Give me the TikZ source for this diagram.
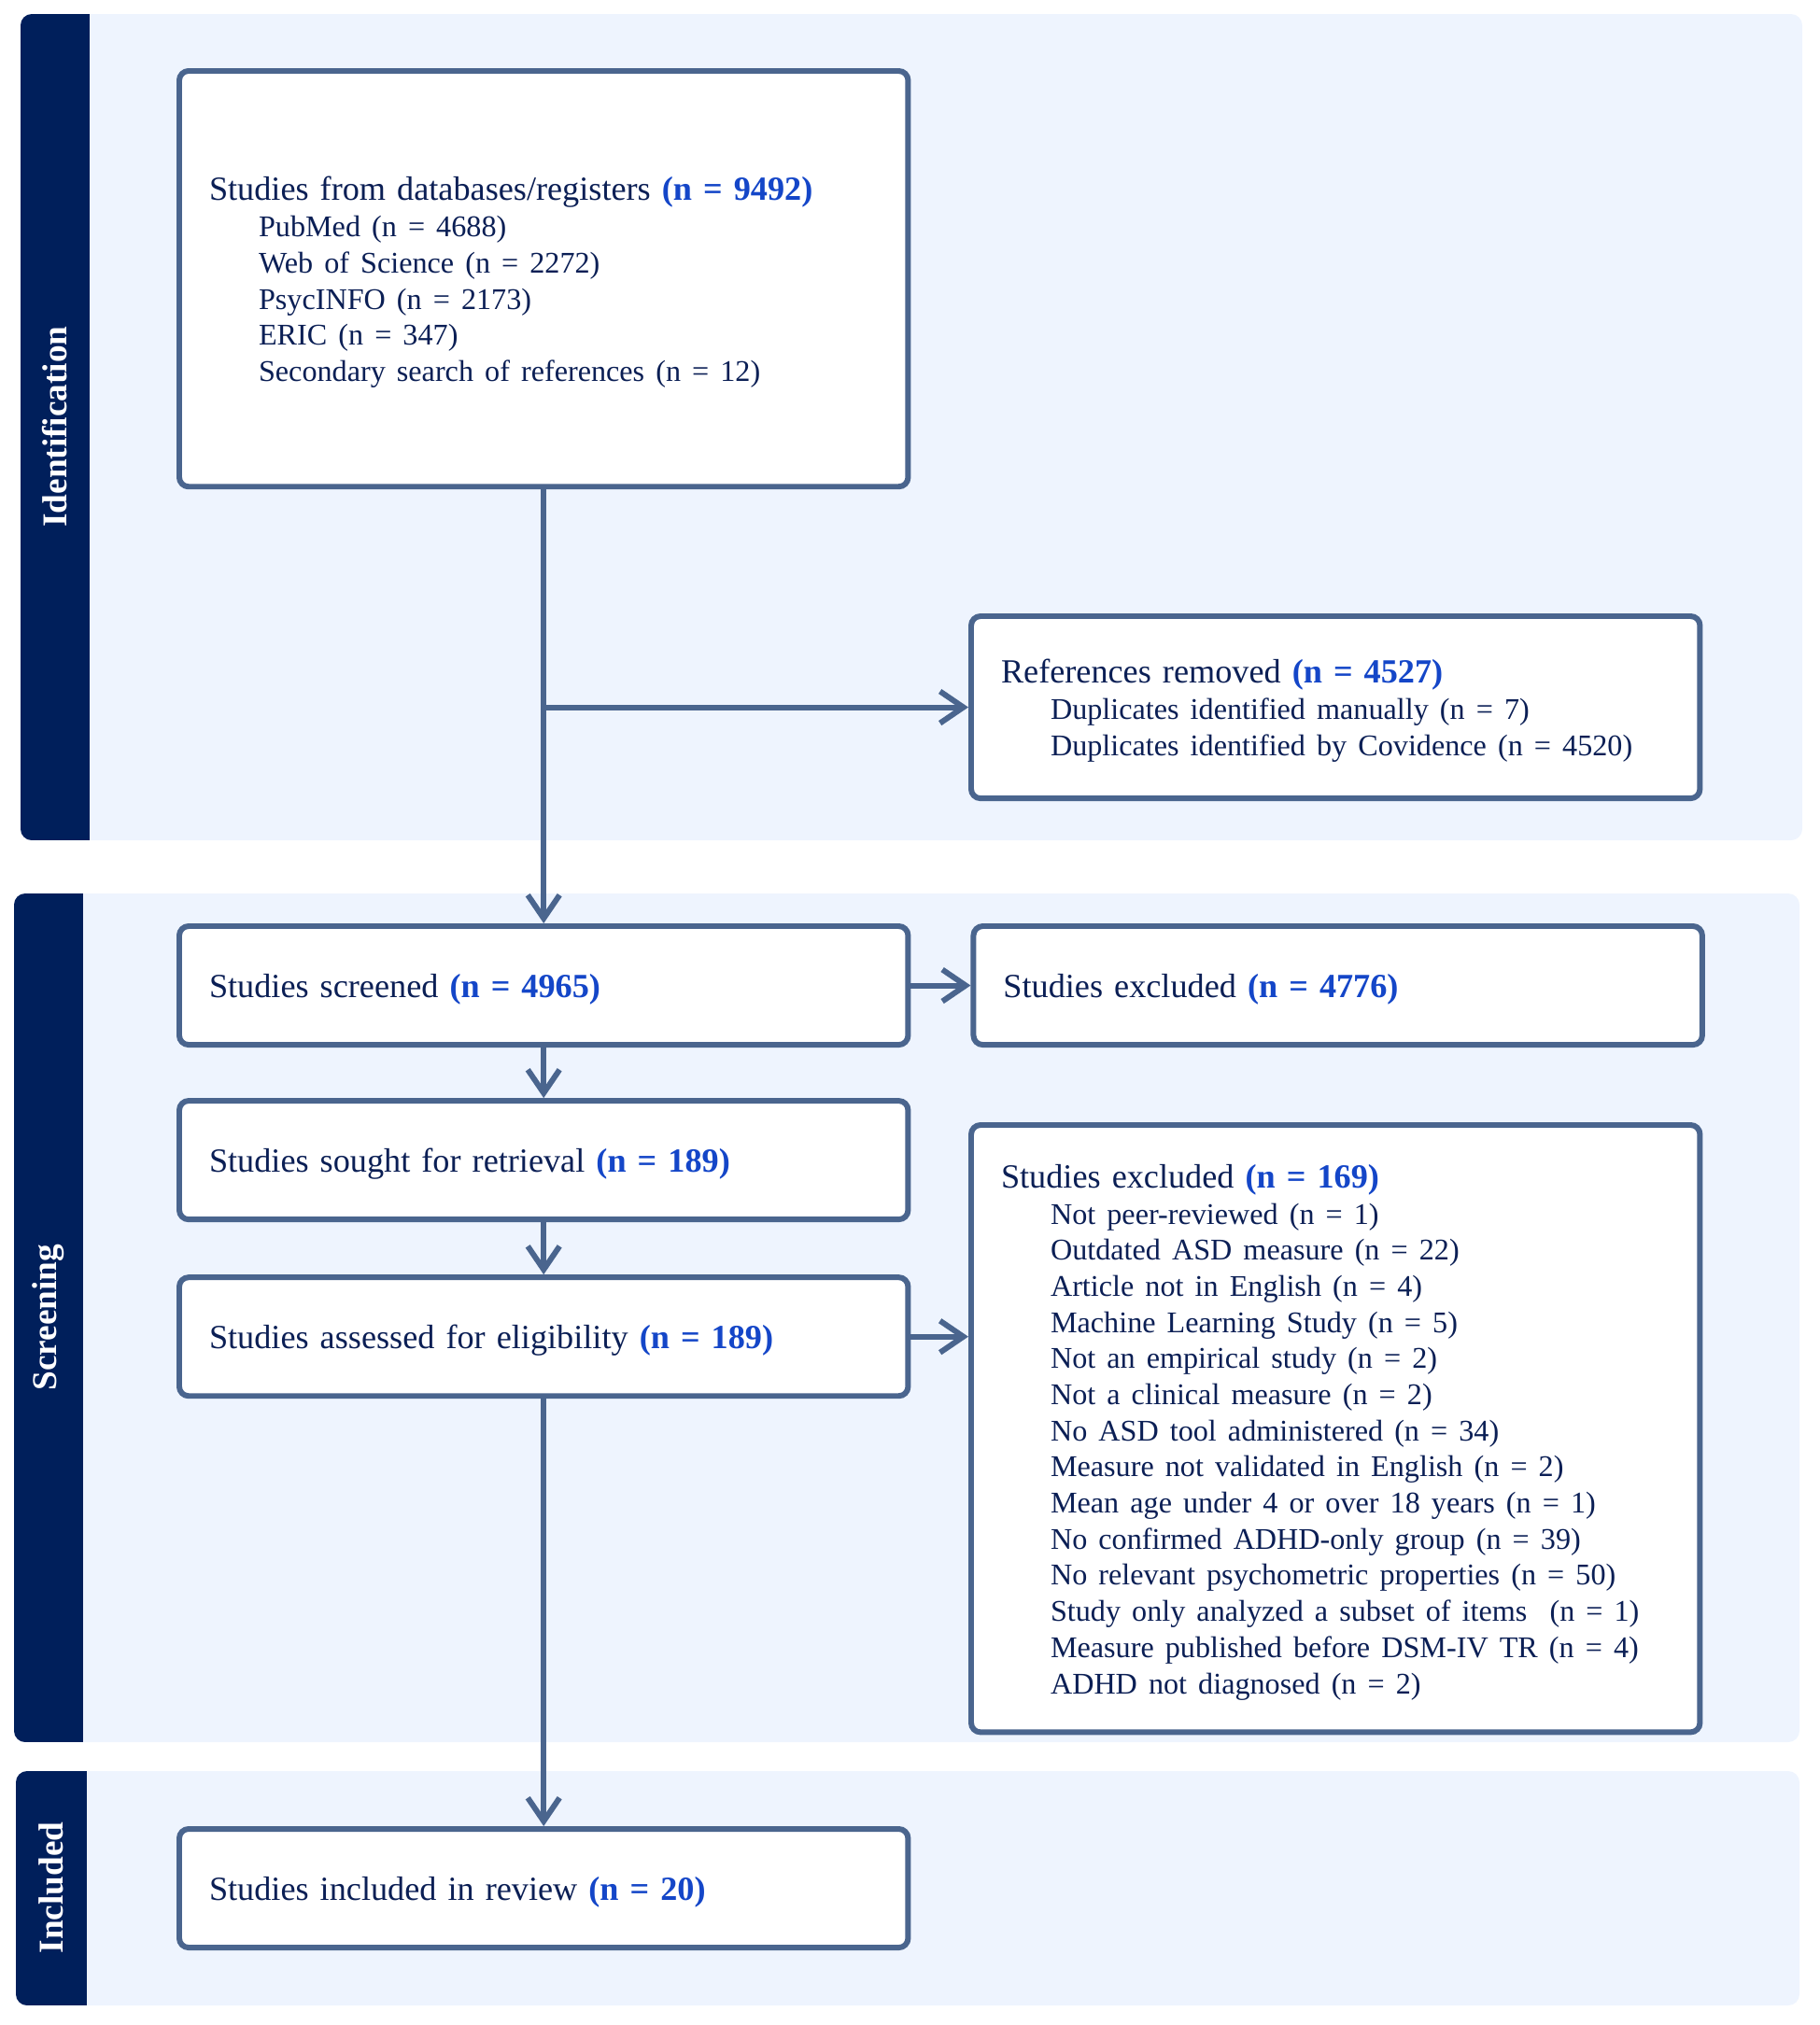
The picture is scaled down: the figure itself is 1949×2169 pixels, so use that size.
\documentclass[tikz,border=0pt]{standalone}
\usepackage{fontspec}
\setmainfont{Liberation Serif}
\usetikzlibrary{arrows.meta, positioning}
\definecolor{bandfill}{RGB}{238,244,254}
\definecolor{stripfill}{RGB}{0,31,91}
\definecolor{edgeblue}{RGB}{74,101,142}
\definecolor{textnavy}{RGB}{11,31,85}
\definecolor{numblue}{RGB}{20,70,200}
\newcommand{\cnt}[1]{\textbf{\color{numblue}#1}}
\newcommand{\itm}[1]{\hspace*{0.53cm}{\fontsize{9.15}{11}\selectfont #1}}
\newcommand{\topgap}{\rule{0pt}{9.4pt}}

\begin{document}
\begin{tikzpicture}[
        x=0.01cm, y=-0.01cm,
        band/.style={fill=bandfill, rounded corners=0.12cm},
        strip/.style={fill=stripfill},
        phase/.style={
          rotate=90,
          text=white,
          font=\fontsize{10.6}{12}\selectfont\bfseries
        },
        box/.style={
          draw=edgeblue,
          line width=1.7pt,
          rounded corners=0.1cm,
          fill=white,
          text=textnavy,
          font=\fontsize{10.3}{11}\selectfont,
          align=left,
          text width=7.16cm,
          inner xsep=0.32cm,
          anchor=north west
        },
        oneline/.style={box, minimum height=1.27cm, text depth=0pt},
        arrow/.style={-{Straight Barb[length=0.25cm, width=0.34cm]}, draw=edgeblue, line width=1.7pt}
      ]
      \useasboundingbox (0,0) rectangle (1949,2169);

      % Phase bands
      \fill[band] (22,15) rectangle (1930,900);
      \begin{scope}
        \clip[rounded corners=0.12cm] (22,15) rectangle (1930,900);
        \fill[strip] (22,15) rectangle (96,900);
      \end{scope}
      \node[phase] (identification) at (59,457) {Identification};

      \fill[band] (15,957) rectangle (1927,1866);
      \begin{scope}
        \clip[rounded corners=0.12cm] (15,957) rectangle (1927,1866);
        \fill[strip] (15,957) rectangle (89,1866);
      \end{scope}
      \node[phase] (screening) at (52,1411) {Screening};

      \fill[band] (17,1897) rectangle (1927,2148);
      \begin{scope}
        \clip[rounded corners=0.12cm] (17,1897) rectangle (1927,2148);
        \fill[strip] (17,1897) rectangle (93,2148);
      \end{scope}
      \node[phase] (included) at (55,2022) {Included};

      % Boxes
      \node[box, minimum height=4.45cm] (sources) at (189,73) {\topgap Studies from databases/registers \cnt{(n = 9492)}\\
        \itm{PubMed (n = 4688)}\\
        \itm{Web of Science (n = 2272)}\\
        \itm{PsycINFO (n = 2173)}\\
        \itm{ERIC (n = 347)}\\
        \itm{Secondary search of references (n = 12)}};

      \node[box, minimum height=1.95cm] (removed) at (1037,657) {\topgap References removed \cnt{(n = 4527)}\\
        \itm{Duplicates identified manually (n = 7)}\\
        \itm{Duplicates identified by Covidence (n = 4520)}};

      \node[oneline] (screened) at (189,989) {Studies screened \cnt{(n = 4965)}};
      \node[oneline, right=0.64cm of screened] (excluded) {Studies excluded \cnt{(n = 4776)}};
      \node[oneline, below=0.54cm of screened] (sought) {Studies sought for retrieval \cnt{(n = 189)}};
      \node[oneline, below=0.56cm of sought] (assessed) {Studies assessed for eligibility \cnt{(n = 189)}};

      \node[box, minimum height=6.5cm] (reasons) at (1037,1202) {\topgap Studies excluded \cnt{(n = 169)}\\
        \itm{Not peer-reviewed (n = 1)}\\
        \itm{Outdated ASD measure (n = 22)}\\
        \itm{Article not in English (n = 4)}\\
        \itm{Machine Learning Study (n = 5)}\\
        \itm{Not an empirical study (n = 2)}\\
        \itm{Not a clinical measure (n = 2)}\\
        \itm{No ASD tool administered (n = 34)}\\
        \itm{Measure not validated in English (n = 2)}\\
        \itm{Mean age under 4 or over 18 years (n = 1)}\\
        \itm{No confirmed ADHD-only group (n = 39)}\\
        \itm{No relevant psychometric properties (n = 50)}\\
        \itm{Study only analyzed a subset of items\ \ (n = 1)}\\
        \itm{Measure published before DSM-IV TR (n = 4)}\\
        \itm{ADHD not diagnosed (n = 2)}};

      \node[oneline] (review) at (189,1956) {Studies included in review \cnt{(n = 20)}};

      % Connections
      \draw[arrow] (sources.south) -- (sources.south |- screened.north);
      \draw[arrow] (sources.south |- removed.west) -- (removed.west);
      \draw[arrow] (screened) -- (excluded);
      \draw[arrow] (screened.south) -- (screened.south |- sought.north);
      \draw[arrow] (sought.south) -- (sought.south |- assessed.north);
      \draw[arrow] (assessed.east) -- (reasons.west |- assessed.east);
      \draw[arrow] (assessed.south) -- (assessed.south |- review.north);

    \end{tikzpicture}
\end{document}
